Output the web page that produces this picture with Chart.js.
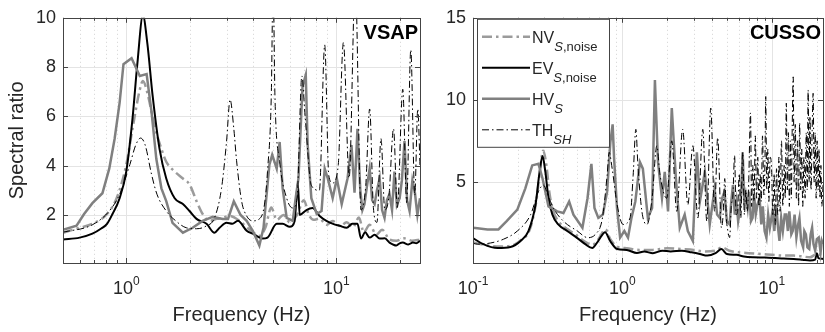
<!DOCTYPE html>
<html>
<head>
<meta charset="utf-8">
<script src="https://cdn.jsdelivr.net/npm/chart.js@4.4.1/dist/chart.umd.min.js"></script>
<style>
  body { margin: 0; background: #fff; }
  #wrap { position: relative; width: 825px; height: 332px; }
  canvas { position: absolute; top: 0; }
  #vsap { left: 0; }
  #cusso { left: 430px; }
</style>
</head>
<body>
<div id="wrap">
  <canvas id="vsap" width="430" height="332"></canvas>
  <canvas id="cusso" width="395" height="332"></canvas>
</div>
<script>
// ---- data ----
const seriesNames = ['NV S,noise', 'EV S,noise', 'HV S', 'TH SH'];

// VSAP panel
const vsapNvFreq = [0.5, 0.6, 0.69, 0.81, 0.9, 1.0, 1.07, 1.16, 1.2, 1.26, 1.36, 1.47, 1.55, 1.7, 1.86, 2.0, 2.16, 2.31, 2.49, 2.7, 2.88, 3.1, 3.46, 3.74, 4.0, 4.3, 4.6, 4.9, 5.2, 5.6, 6.0, 6.5, 7.0, 7.4, 7.8, 8.3, 9.0, 9.6, 10.4, 11.2, 12.0, 12.8, 13.5, 14.4, 15.5, 16.5, 17.9, 19.3, 21.0, 23.0, 25.0];
const vsapNv = [1.28, 1.48, 1.64, 2.04, 2.68, 4.04, 5.48, 7.08, 7.44, 6.96, 5.64, 4.68, 4.16, 3.76, 3.48, 3.24, 2.56, 2.04, 1.76, 1.84, 1.88, 1.96, 1.76, 1.5, 1.3, 1.15, 1.5, 2.3, 1.8, 2.0, 1.7, 2.0, 2.6, 2.0, 1.8, 1.85, 1.6, 1.75, 1.55, 1.7, 1.5, 1.9, 1.3, 1.6, 1.2, 1.4, 1.0, 0.95, 1.05, 0.95, 1.0];

const vsapEvFreq = [0.5, 0.6, 0.69, 0.76, 0.81, 0.86, 0.93, 1.0, 1.07, 1.13, 1.2, 1.26, 1.335, 1.44, 1.55, 1.7, 1.86, 2.0, 2.16, 2.41, 2.63, 2.78, 3.0, 3.2, 3.4, 3.74, 4.0, 4.46, 4.7, 5.2, 5.55, 6.0, 6.33, 6.55, 6.69, 7.2, 7.7, 8.32, 8.97, 9.64, 10.37, 11.2, 11.9, 12.6, 13.1, 13.7, 14.4, 15.2, 16.07, 17.0, 17.9, 19.3, 20.0, 20.7, 22.0, 23.1, 24.0, 25.0];
const vsapEv = [1.0, 1.08, 1.24, 1.45, 1.64, 2.04, 2.68, 3.76, 5.88, 8.16, 10.1, 8.96, 6.84, 4.68, 3.48, 2.68, 2.44, 2.16, 1.84, 1.64, 1.28, 1.48, 1.68, 1.64, 1.76, 1.36, 1.24, 1.04, 1.08, 1.64, 1.64, 1.52, 1.76, 3.3, 2.0, 2.2, 2.28, 1.96, 1.76, 1.64, 1.56, 1.48, 1.64, 1.64, 1.04, 1.3, 1.08, 1.2, 1.04, 1.05, 0.88, 0.76, 0.85, 0.88, 0.8, 0.88, 0.85, 0.95];

const vsapHvFreq = [0.5, 0.58, 0.63, 0.69, 0.77, 0.83, 0.88, 0.93, 0.97, 1.06, 1.16, 1.25, 1.32, 1.39, 1.47, 1.55, 1.66, 1.86, 2.07, 2.31, 2.58, 2.88, 3.05, 3.25, 3.5, 3.74, 4.0, 4.3, 4.5, 4.8, 4.95, 5.2, 5.37, 5.55, 5.8, 6.2, 6.4, 6.6, 6.9, 7.15, 7.3, 7.6, 8.06, 8.5, 8.8, 9.1, 9.6, 10.05, 10.6, 11.3, 11.8, 12.2, 12.6,
  13.0, 13.3, 13.6, 14.0, 14.4, 14.8, 15.2, 15.6, 16.07, 16.5, 16.95, 17.4, 17.9, 18.4, 18.9, 19.4, 20.0, 20.5, 21.1, 21.7, 22.3, 23.0, 23.6, 24.3, 25.0];
const vsapHv = [1.4, 1.56, 2.04, 2.48, 2.88, 3.88, 5.08, 6.56, 8.12, 8.36, 7.64, 7.72, 6.16, 4.28, 3.08, 2.56, 1.68, 1.28, 1.48, 1.76, 1.92, 1.84, 1.84, 2.55, 2.0, 1.76, 1.36, 0.76, 1.48, 4.04, 4.44, 3.88, 4.96, 3.08, 1.88, 1.76, 2.68, 3.48, 7.2, 7.68, 4.84, 2.68, 2.04, 2.16, 3.88, 3.48, 2.68, 3.48, 2.44, 3.48, 4.84, 2.9, 5.5,
  3.0, 2.2, 2.44, 3.2, 3.88, 2.6, 2.44, 3.0, 3.48, 2.2, 1.88, 2.6, 2.84, 2.2, 3.76, 2.4, 2.68, 3.4, 5.0, 2.6, 2.16, 3.4, 2.96, 2.0, 2.68];

const vsapThFreq = [0.5, 0.69, 0.83, 0.93, 1.04, 1.11, 1.17, 1.23, 1.32, 1.4, 1.55, 1.72, 1.93, 2.16, 2.41, 2.63, 2.84, 3.0, 3.12, 3.25, 3.35, 3.54, 3.74, 4.0, 4.3, 4.55, 4.7, 4.9, 5.0, 5.1, 5.37, 5.8, 6.2, 6.5, 6.85, 7.1, 7.6, 8.3, 8.8, 9.2, 9.6, 10.2, 10.8, 11.5, 12.3, 13.1, 13.8, 14.4, 15.0, 15.6, 16.3, 17.0, 17.8, 18.7, 19.5, 20.7, 21.6, 22.6, 23.6, 24.4, 25.0];
const vsapTh = [1.3, 1.6, 2.16, 2.84, 4.04, 4.84, 5.12, 4.84, 3.64, 2.84, 2.16, 1.76, 1.48, 1.44, 1.56, 1.88, 3.08, 4.96, 6.68, 5.5, 4.2, 2.56, 1.96, 1.76, 1.84, 2.44, 3.76, 6.84, 11.5, 6.84, 4.16, 2.68, 2.28, 2.68, 7.64, 6.0, 3.2, 3.0, 8.9, 3.6, 3.3, 4.0, 9.0, 3.5, 11.5, 2.2, 3.2, 6.3, 2.3, 1.7, 5.1, 2.2, 2.8, 5.5, 2.3, 7.1, 2.5, 8.7, 2.8, 6.3, 4.0];

// CUSSO panel
const cussoNvFreq = [0.1, 0.12, 0.15, 0.18, 0.21, 0.24, 0.265, 0.28, 0.295, 0.31, 0.325, 0.345, 0.38, 0.43, 0.5, 0.56, 0.63, 0.69, 0.77, 0.83, 0.92, 1.07, 1.3, 1.6, 2.0, 2.5, 3.0, 3.5, 4.2, 4.6, 5.2, 6.0, 7.0, 8.5, 10.0, 12.0, 14.0, 16.0, 18.0, 20.0, 22.0];
const cussoNv = [1.3, 1.15, 1.05, 1.1, 1.45, 2.1, 3.8, 5.6, 6.9, 6.0, 4.3, 3.2, 2.5, 2.1, 1.7, 1.35, 1.15, 1.5, 2.1, 1.5, 1.05, 0.95, 0.85, 0.85, 0.95, 0.9, 0.85, 0.75, 0.8, 1.0, 0.8, 0.7, 0.65, 0.6, 0.55, 0.5, 0.5, 0.45, 0.4, 0.6, 0.5];

const cussoEvFreq = [0.1, 0.117, 0.146, 0.178, 0.208, 0.235, 0.262, 0.279, 0.292, 0.305, 0.32, 0.34, 0.372, 0.427, 0.499, 0.564, 0.628, 0.688, 0.766, 0.828, 0.922, 1.07, 1.25, 1.4, 1.6, 1.85, 2.1, 2.5, 2.9, 3.3, 3.7, 4.2, 4.6, 5.0, 5.8, 6.5, 7.5, 9.0, 10.5, 12.0, 14.0, 16.0, 18.0, 19.5, 20.0, 20.5, 22.0];
const cussoEv = [1.57, 1.2, 0.96, 1.02, 1.39, 1.99, 3.6, 5.6, 6.57, 5.6, 4.0, 3.0, 2.4, 2.0, 1.57, 1.2, 0.96, 1.39, 1.93, 1.39, 0.9, 0.84, 0.66, 0.75, 0.65, 0.8, 0.75, 0.8, 0.7, 0.6, 0.5, 0.65, 0.9, 0.6, 0.55, 0.45, 0.4, 0.38, 0.35, 0.32, 0.3, 0.25, 0.2, 0.25, 0.65, 0.35, 0.3];

const cussoHvFreq = [0.1, 0.107, 0.125, 0.148, 0.168, 0.198, 0.224, 0.249, 0.274, 0.292, 0.305, 0.32, 0.366, 0.403, 0.44, 0.47, 0.54, 0.584, 0.62, 0.65, 0.69, 0.74, 0.79, 0.83, 0.86, 0.88, 0.92, 0.965, 1.03, 1.09, 1.15, 1.22, 1.31, 1.37, 1.48, 1.58, 1.65, 1.73, 1.84, 1.92, 2.02, 2.14, 2.28, 2.42, 2.61, 2.74, 2.96, 3.15, 3.3, 3.56, 3.84,
  4.14, 4.3, 4.48, 4.65, 4.82, 5.0, 5.22, 5.35, 5.49, 5.65, 5.8, 5.95, 6.09, 6.25, 6.38, 6.55, 6.7, 6.89, 7.05, 7.25, 7.43, 7.6, 7.8, 8.0, 8.28, 8.5, 8.7, 8.95, 9.2, 9.45, 9.7, 10.1, 10.4, 10.7, 11.0, 11.25, 11.55, 11.85, 12.2, 12.5, 12.8, 13.1, 13.5, 13.8, 14.2, 14.6, 15.0, 15.3, 15.7, 16.2, 16.5, 16.9, 17.3, 17.8, 18.2, 18.6, 19.0, 19.5, 20.0, 20.6, 21.2, 21.6, 22.0];
const cussoHv = [2.2, 2.17, 2.1, 2.1, 2.6, 3.3, 4.6, 6.0, 6.1, 5.2, 4.4, 3.5, 3.2, 3.1, 3.8, 3.0, 2.2, 4.0, 6.1, 3.4, 2.8, 3.0, 4.4, 7.4, 8.5, 6.4, 3.4, 1.6, 2.0, 1.6, 2.8, 3.8, 6.2, 5.8, 2.8, 3.4, 11.2, 6.2, 4.0, 5.6, 3.2, 9.5, 5.2, 2.2, 3.0, 2.0, 1.4, 6.8, 3.8, 5.6, 2.4,
  4.6, 3.0, 2.8, 4.0, 4.4, 2.6, 2.4, 3.8, 4.8, 3.0, 3.8, 2.6, 3.2, 4.5, 6.8, 3.6, 4.2, 3.4, 4.4, 2.6, 2.8, 4.2, 3.0, 3.6, 4.0, 2.4, 3.5, 2.0, 1.6, 3.0, 2.2, 3.2, 2.0, 3.6, 2.2, 1.4, 2.8, 2.0, 3.0, 3.0, 2.0, 3.2, 1.8, 2.0, 3.0, 1.6, 2.4, 2.8, 1.4, 1.0, 2.0, 1.8, 1.0, 0.9, 1.8, 2.2, 1.2, 0.8, 1.5, 1.6, 0.7, 1.4, 1.2];

const cussoThFreq = [0.1, 0.107, 0.131, 0.16, 0.198, 0.243, 0.274, 0.296, 0.317, 0.345, 0.403, 0.499, 0.584, 0.66, 0.735, 0.79, 0.815, 0.854, 0.922, 1.01, 1.125, 1.18, 1.23, 1.27, 1.35, 1.46, 1.58, 1.7, 1.78, 1.98, 2.14, 2.31, 2.53, 2.74, 2.96, 3.2, 3.45, 3.67, 3.9, 4.14, 4.34,
  4.6, 4.72, 4.84, 4.96, 5.08, 5.22, 5.35, 5.49, 5.63, 5.77, 5.9, 6.05, 6.2, 6.38, 6.55, 6.7, 6.85, 7.0, 7.2, 7.32, 7.45, 7.6, 7.75, 7.9, 8.05, 8.2, 8.35, 8.5, 8.66, 8.85, 9.0, 9.1, 9.25, 9.4, 9.55, 9.75, 9.96, 10.15, 10.35, 10.55, 10.75, 10.95, 11.15, 11.35, 11.6, 11.85, 12.1, 12.3, 12.5, 12.7, 12.9, 13.1, 13.3, 13.5, 13.7, 13.9, 14.1, 14.35, 14.6, 14.85, 15.1, 15.35, 15.6, 15.85, 16.1, 16.4, 16.7, 17.0, 17.25, 17.5, 17.75, 18.0, 18.3, 18.6, 18.9, 19.2, 19.5, 19.8, 20.1, 20.4, 20.7, 21.0, 21.3, 21.6, 22.0];
const cussoTh = [1.25, 1.2, 1.27, 1.5, 2.0, 3.0, 4.4, 4.8, 4.2, 3.4, 2.6, 2.0, 1.6, 1.8, 2.8, 5.4, 6.8, 5.8, 3.6, 2.4, 2.8, 5.4, 8.2, 6.0, 3.2, 2.4, 4.0, 7.2, 5.5, 4.0, 7.5, 3.2, 8.2, 3.6, 7.2, 2.8, 8.2, 2.6, 9.5, 3.2, 7.7,
  2.2, 3.0, 5.2, 2.8, 2.0, 1.6, 3.5, 4.2, 6.6, 3.0, 3.2, 5.5, 2.8, 6.8, 3.0, 4.5, 3.2, 5.0, 9.2, 3.5, 6.0, 3.8, 7.8, 4.0, 6.5, 3.5, 5.5, 3.8, 7.8, 4.2, 6.5, 10.2, 4.5, 7.0, 3.8, 6.5, 5.8, 3.0, 5.5, 2.4, 5.8, 3.0, 6.5, 3.2, 7.5, 3.5, 6.0, 4.0, 9.8, 4.5, 8.0, 3.5, 7.5, 4.0, 8.5, 11.4, 5.0, 8.5, 4.0, 7.5, 3.5, 8.6, 4.5, 7.0, 3.5, 6.5, 4.0, 8.0, 4.5, 10.6, 5.0, 9.0, 4.5, 8.0, 10.4, 5.0, 8.0, 4.0, 7.5, 4.5, 7.0, 4.0, 6.0, 3.5, 4.8];

// axis ticks
const vsapXTicks = [0.5, 0.6, 0.7, 0.8, 0.9, 1, 2, 3, 4, 5, 6, 7, 8, 9, 10, 20];
const vsapXMajor = [1, 10];
const vsapXExp = ['0', '1'];
const vsapYTicks = [2, 4, 6, 8, 10];

const cussoXTicks = [0.1, 0.2, 0.3, 0.4, 0.5, 0.6, 0.7, 0.8, 0.9, 1, 2, 3, 4, 5, 6, 7, 8, 9, 10, 20];
const cussoXMajor = [0.1, 1, 10];
const cussoXExp = ['-1', '0', '1'];
const cussoYTicks = [5, 10, 15];

// ---- styles ----
const FONT = "'Liberation Sans', Arial, Helvetica, sans-serif";
const INK = '#262626';
const seriesStyles = [
  { color: '#9b9b9b', width: 2.5, dash: [10, 4, 2.5, 4], order: 4 },
  { color: '#000000', width: 2, dash: [], order: 3 },
  { color: '#808080', width: 2.5, dash: [], order: 2 },
  { color: '#000000', width: 1, dash: [7, 3, 1.5, 3], order: 1 }
];
const legendEntries = [
  { main: 'NV', sub: [['S', true], [',noise', false]] },
  { main: 'EV', sub: [['S', true], [',noise', false]] },
  { main: 'HV', sub: [['S', true]] },
  { main: 'TH', sub: [['SH', true]] }
];

const panelExtras = {};

function drawXLabels(chart, majors, exps) {
  const { ctx, chartArea: a, scales: { x } } = chart;
  ctx.save();
  ctx.fillStyle = INK;
  ctx.textBaseline = 'alphabetic';
  ctx.textAlign = 'left';
  majors.forEach((v, i) => {
    const px = x.getPixelForValue(v);
    ctx.font = '18px ' + FONT;
    const wb = ctx.measureText('10').width;
    ctx.font = '12px ' + FONT;
    const we = ctx.measureText(exps[i]).width;
    const x0 = px - (wb + we) / 2;
    ctx.font = '18px ' + FONT;
    ctx.fillText('10', x0, a.bottom + 31);
    ctx.font = '12px ' + FONT;
    ctx.fillText(exps[i], x0 + wb, a.bottom + 22);
  });
  ctx.restore();
}

function drawLegend(chart) {
  const { ctx, chartArea: a } = chart;
  const left = a.left + 4, top = a.top + 1, w = 132, h = 128;
  ctx.save();
  ctx.fillStyle = '#fff';
  ctx.fillRect(left, top, w, h);
  ctx.strokeStyle = '#444';
  ctx.lineWidth = 1;
  ctx.strokeRect(left + 0.5, top + 0.5, w, h);
  legendEntries.forEach((e, i) => {
    const st = seriesStyles[i];
    const cy = top + 18 + i * 31;
    ctx.strokeStyle = st.color;
    ctx.lineWidth = st.width;
    ctx.setLineDash(st.dash);
    ctx.beginPath();
    ctx.moveTo(left + 5, cy);
    ctx.lineTo(left + 53, cy);
    ctx.stroke();
    ctx.setLineDash([]);
    ctx.fillStyle = INK;
    ctx.textBaseline = 'alphabetic';
    ctx.font = '16px ' + FONT;
    let tx = left + 55;
    const base = cy + 6;
    ctx.fillText(e.main, tx, base);
    tx += ctx.measureText(e.main).width;
    e.sub.forEach(([t, it]) => {
      ctx.font = (it ? 'italic ' : '') + '13px ' + FONT;
      ctx.fillText(t, tx, base + 8);
      tx += ctx.measureText(t).width;
    });
  });
  ctx.restore();
}

const matlabAxes = {
  id: 'matlabAxes',
  beforeDatasetsDraw(chart) {
    const { ctx, chartArea: a, scales: { x, y } } = chart;
    ctx.save();
    ctx.beginPath();
    ctx.rect(a.left, a.top, a.right - a.left, a.bottom - a.top);
    ctx.clip();
    ctx.lineWidth = 1;
    x.ticks.forEach(t => {
      const px = Math.round(x.getPixelForValue(t.value)) + 0.5;
      ctx.strokeStyle = t.major ? '#e4e4e4' : '#d2d2d2';
      ctx.setLineDash(t.major ? [] : [1, 3]);
      ctx.beginPath();
      ctx.moveTo(px, a.top);
      ctx.lineTo(px, a.bottom);
      ctx.stroke();
    });
    ctx.setLineDash([]);
    ctx.strokeStyle = '#e4e4e4';
    y.ticks.forEach(t => {
      const py = Math.round(y.getPixelForValue(t.value)) + 0.5;
      ctx.beginPath();
      ctx.moveTo(a.left, py);
      ctx.lineTo(a.right, py);
      ctx.stroke();
    });
    ctx.restore();
  },
  afterDraw(chart) {
    const { ctx, chartArea: a, scales: { x, y } } = chart;
    const ex = panelExtras[chart.canvas.id];
    ctx.save();
    ctx.strokeStyle = '#444';
    ctx.lineWidth = 1;
    // inward ticks
    x.ticks.forEach(t => {
      const px = Math.round(x.getPixelForValue(t.value)) + 0.5;
      const len = t.major ? 5 : 3;
      ctx.beginPath();
      ctx.moveTo(px, a.bottom); ctx.lineTo(px, a.bottom - len);
      ctx.moveTo(px, a.top); ctx.lineTo(px, a.top + len);
      ctx.stroke();
    });
    y.ticks.forEach(t => {
      const py = Math.round(y.getPixelForValue(t.value)) + 0.5;
      ctx.beginPath();
      ctx.moveTo(a.left, py); ctx.lineTo(a.left + 5, py);
      ctx.moveTo(a.right, py); ctx.lineTo(a.right - 5, py);
      ctx.stroke();
    });
    ctx.strokeRect(Math.round(a.left) + 0.5, Math.round(a.top) + 0.5,
      Math.round(a.right - a.left), Math.round(a.bottom - a.top));
    ctx.restore();

    drawXLabels(chart, ex.majors, ex.exps);

    ctx.save();
    ctx.fillStyle = '#000';
    ctx.font = 'bold 20px ' + FONT;
    ctx.textAlign = 'right';
    ctx.textBaseline = 'alphabetic';
    ctx.fillText(ex.label, a.right - 2, a.top + 21);
    ctx.restore();

    if (ex.legend) drawLegend(chart);
  }
};

function buildChart(id, cfg) {
  panelExtras[id] = { label: cfg.label, majors: cfg.xMajor, exps: cfg.xExp, legend: cfg.legend };
  const datasets = cfg.series.map((s, i) => ({
    label: seriesNames[i],
    data: s[0].map((f, k) => ({ x: f, y: s[1][k] })),
    borderColor: seriesStyles[i].color,
    borderWidth: seriesStyles[i].width,
    borderDash: seriesStyles[i].dash,
    order: seriesStyles[i].order,
    pointRadius: 0,
    fill: false,
    cubicInterpolationMode: i === 2 ? 'default' : 'monotone',
    tension: 0,
    clip: 0
  }));
  return new Chart(document.getElementById(id), {
    type: 'line',
    data: { datasets },
    plugins: [matlabAxes],
    options: {
      responsive: false,
      animation: false,
      events: [],
      devicePixelRatio: 1,
      layout: { padding: { left: 0, right: cfg.padRight, top: 14, bottom: 0 } },
      plugins: { legend: { display: false }, tooltip: { enabled: false } },
      scales: {
        x: {
          type: 'logarithmic',
          min: cfg.xMin,
          max: cfg.xMax,
          ticks: { display: false },
          grid: { display: false, drawTicks: false },
          border: { display: false },
          title: {
            display: true, text: 'Frequency (Hz)', color: INK,
            font: { family: FONT, size: 20, lineHeight: 1.2 },
            padding: { top: 0, bottom: 5 }
          },
          afterBuildTicks: s => {
            s.ticks = cfg.xTicks.map(v => ({ value: v, major: cfg.xMajor.includes(v) }));
          },
          afterFit: s => { s.height = 69; }
        },
        y: {
          type: 'linear',
          min: cfg.yMin,
          max: cfg.yMax,
          ticks: { color: INK, font: { family: FONT, size: 18 }, padding: 7 },
          grid: { display: false, drawTicks: false },
          border: { display: false },
          title: {
            display: !!cfg.yTitle, text: cfg.yTitle || '', color: INK,
            font: { family: FONT, size: 20, lineHeight: 1.2 },
            padding: { top: 5, bottom: 0 }
          },
          afterBuildTicks: s => { s.ticks = cfg.yTicks.map(v => ({ value: v })); },
          afterFit: s => { s.width = cfg.yAxisWidth; }
        }
      }
    }
  });
}

buildChart('vsap', {
  label: 'VSAP',
  legend: false,
  series: [[vsapNvFreq, vsapNv], [vsapEvFreq, vsapEv], [vsapHvFreq, vsapHv], [vsapThFreq, vsapTh]],
  xMin: 0.5, xMax: 25, xTicks: vsapXTicks, xMajor: vsapXMajor, xExp: vsapXExp,
  yMin: 0.05, yMax: 10, yTicks: vsapYTicks,
  yTitle: 'Spectral ratio', yAxisWidth: 63, padRight: 10
});

buildChart('cusso', {
  label: 'CUSSO',
  legend: true,
  series: [[cussoNvFreq, cussoNv], [cussoEvFreq, cussoEv], [cussoHvFreq, cussoHv], [cussoThFreq, cussoTh]],
  xMin: 0.1, xMax: 22, xTicks: cussoXTicks, xMajor: cussoXMajor, xExp: cussoXExp,
  yMin: 0.05, yMax: 15, yTicks: cussoYTicks,
  yTitle: '', yAxisWidth: 43, padRight: 2
});
</script>
</body>
</html>
